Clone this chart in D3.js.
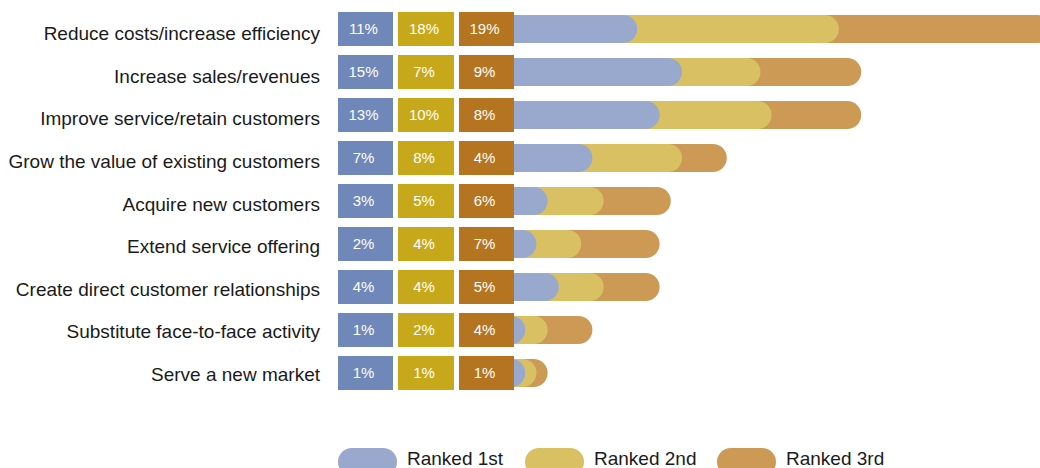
<!DOCTYPE html>
<html>
<head>
<meta charset="utf-8">
<script src="https://cdn.jsdelivr.net/npm/d3@7"></script>
<style>
  html, body { margin: 0; padding: 0; background: #fff; overflow: hidden; }
  svg { display: block; font-family: "Liberation Sans", Arial, Helvetica, sans-serif; }
</style>
</head>
<body>
<svg id="chart" width="1040" height="468"></svg>
<script>
// Business objectives, share of respondents ranking each 1st / 2nd / 3rd (%)
const categories = [
  "Reduce costs/increase efficiency",
  "Increase sales/revenues",
  "Improve service/retain customers",
  "Grow the value of existing customers",
  "Acquire new customers",
  "Extend service offering",
  "Create direct customer relationships",
  "Substitute face-to-face activity",
  "Serve a new market"
];
const ranked1st = [11, 15, 13, 7, 3, 2, 4, 1, 1];
const ranked2nd = [18, 7, 10, 8, 5, 4, 4, 2, 1];
const ranked3rd = [19, 9, 8, 4, 6, 7, 5, 4, 1];
const seriesNames = ["Ranked 1st", "Ranked 2nd", "Ranked 3rd"];

const boxColors = ["#6f87b9", "#c8a81b", "#b5741f"];
const barColors = ["#99a8cd", "#d9c163", "#cc9a55"];

const svg = d3.select("#chart");
const series = [ranked1st, ranked2nd, ranked3rd];

// Row bands for boxes and bars
const y = d3.scaleBand()
  .domain(categories)
  .range([7.5, 7.5 + 43 * categories.length])
  .paddingInner(0);

// Baselines for the category labels
const labelY = d3.scalePoint()
  .domain(categories)
  .range([40, 381]);

const barStart = 514;
const x = d3.scaleLinear().domain([0, 100]).range([barStart, barStart + 1120]);

const boxX = [338, 398, 459];
const boxW = [55, 56, 55];
const boxH = 34;
const barH = 28;

// Category labels
svg.append("g").selectAll("text")
  .data(categories)
  .join("text")
  .attr("x", 320)
  .attr("y", d => labelY(d))
  .attr("text-anchor", "end")
  .attr("font-size", 19)
  .attr("fill", "#1a1a1a")
  .text(d => d);

const rows = svg.append("g").selectAll("g.row")
  .data(categories)
  .join("g")
  .attr("class", "row")
  .attr("transform", d => `translate(0,${y(d) + y.bandwidth() / 2})`);

// Stacked rounded bars: drawn back to front from cumulative totals
rows.each(function(cat, i) {
  const g = d3.select(this);
  const cum = [
    series[0][i],
    series[0][i] + series[1][i],
    series[0][i] + series[1][i] + series[2][i]
  ];
  for (let s = 2; s >= 0; s--) {
    g.append("rect")
      .attr("x", barStart - 20)
      .attr("y", -barH / 2)
      .attr("width", x(cum[s]) - (barStart - 20))
      .attr("height", barH)
      .attr("rx", barH / 2)
      .attr("fill", barColors[s]);
  }
  // Value boxes
  for (let s = 0; s < 3; s++) {
    g.append("rect")
      .attr("x", boxX[s])
      .attr("y", -boxH / 2)
      .attr("width", boxW[s])
      .attr("height", boxH)
      .attr("fill", boxColors[s]);
    g.append("text")
      .attr("x", boxX[s] + boxW[s] / 2 - 2)
      .attr("y", 0)
      .attr("dy", "0.35em")
      .attr("text-anchor", "middle")
      .attr("font-size", 15)
      .attr("fill", "#fff")
      .text(series[s][i] + "%");
  }
});

// Legend
const legendX = [338, 525, 717];
const legend = svg.append("g").selectAll("g")
  .data(seriesNames)
  .join("g")
  .attr("transform", (d, i) => `translate(${legendX[i]},448)`);
legend.append("rect")
  .attr("width", 59)
  .attr("height", 28)
  .attr("rx", 14)
  .attr("fill", (d, i) => barColors[i]);
legend.append("text")
  .attr("x", 69)
  .attr("y", 17)
  .attr("font-size", 19)
  .attr("fill", "#1a1a1a")
  .text(d => d);
</script>
</body>
</html>
